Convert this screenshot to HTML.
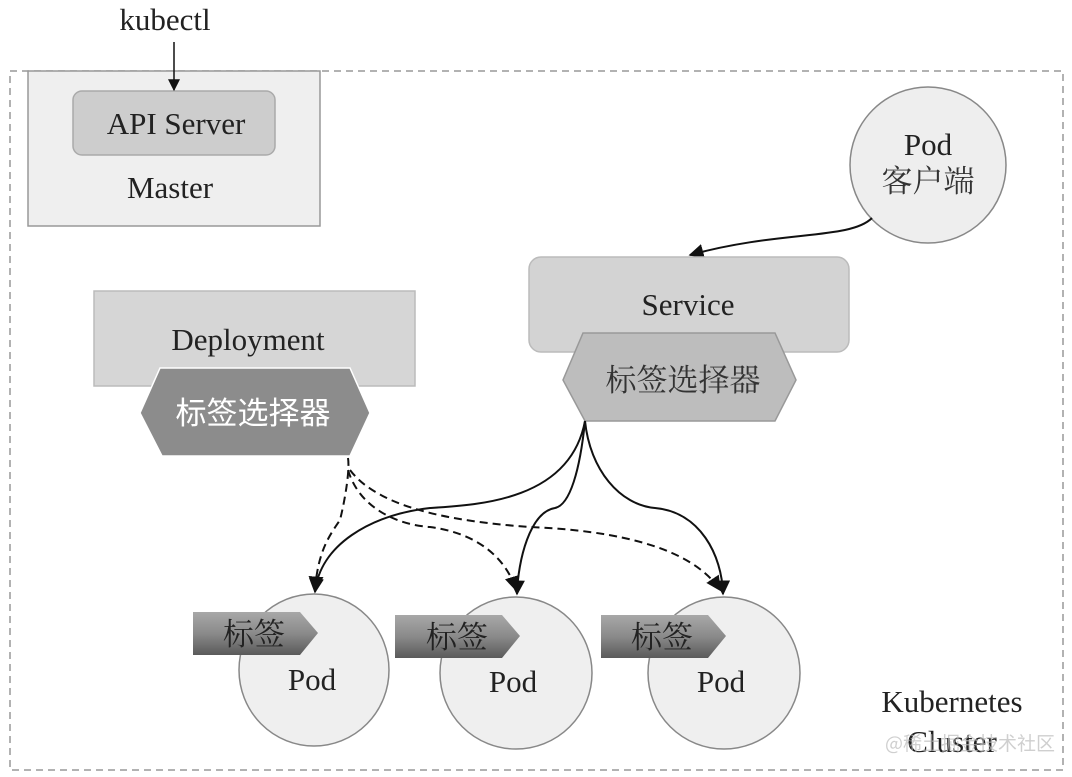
<!DOCTYPE html>
<html><head><meta charset="utf-8"><style>
html,body{margin:0;padding:0;background:#fff;}
svg{display:block;}
text{font-family:"Liberation Serif","Noto Serif CJK SC",serif;fill:#222;}
.cjk{font-family:"Noto Sans CJK SC","WenQuanYi Zen Hei",sans-serif;}
.cjks{font-family:"Noto Serif CJK SC","Noto Sans CJK SC",serif;}
</style></head><body>
<svg width="1072" height="777" viewBox="0 0 1072 777" xmlns="http://www.w3.org/2000/svg">
<defs>
<marker id="ah" viewBox="0 0 10 10" refX="9" refY="5" markerWidth="12" markerHeight="12" markerUnits="userSpaceOnUse" orient="auto">
<path d="M0,0 L10,5 L0,10 z" fill="#111"/></marker>
<marker id="ah2" viewBox="0 0 10 10" refX="9" refY="5" markerWidth="15" markerHeight="15" markerUnits="userSpaceOnUse" orient="auto">
<path d="M0,0 L10,5 L0,10 z" fill="#111"/></marker>
<linearGradient id="tg" x1="0" y1="0" x2="0" y2="1"><stop offset="0" stop-color="#a8a8a8"/><stop offset="0.5" stop-color="#8a8a8a"/><stop offset="1" stop-color="#5a5a5a"/></linearGradient>
</defs>
<rect x="10" y="71" width="1053" height="699" fill="none" stroke="#999" stroke-width="1.5" stroke-dasharray="7,5"/>
<!-- Master -->
<rect x="28" y="71" width="292" height="155" fill="#efefef" stroke="#999" stroke-width="1.5"/>
<rect x="73" y="91" width="202" height="64" rx="9" fill="#cdcdcd" stroke="#aaa" stroke-width="1.5"/>
<text x="176" y="134" font-size="31" text-anchor="middle">API Server</text>
<text x="170" y="198" font-size="31" text-anchor="middle">Master</text>
<text x="165" y="30" font-size="31" text-anchor="middle">kubectl</text>
<line x1="174" y1="42" x2="174" y2="90" stroke="#111" stroke-width="1.5" marker-end="url(#ah)"/>
<!-- Deployment -->
<rect x="94" y="291" width="321" height="95" fill="#d6d6d6" stroke="#bbb" stroke-width="1.5"/>
<text x="248" y="350" font-size="31" text-anchor="middle">Deployment</text>
<polygon points="160,368 350,368 370,413 350,456 162,456 140,413" fill="#8c8c8c" stroke="#fff" stroke-width="1.5"/>
<text x="253" y="424" font-size="31" text-anchor="middle" class="cjk" style="fill:#fff">标签选择器</text>
<!-- Pod client -->
<circle cx="928" cy="165" r="78" fill="#eee" stroke="#888" stroke-width="1.5"/>
<text x="928" y="155" font-size="31" text-anchor="middle">Pod</text>
<text x="928" y="192" font-size="31" text-anchor="middle" class="cjks" style="fill:#333">客户端</text>
<path d="M872,218 C850,240 780,230 690,255" fill="none" stroke="#111" stroke-width="2" marker-end="url(#ah2)"/>
<!-- Service -->
<rect x="529" y="257" width="320" height="95" rx="12" fill="#d3d3d3" stroke="#bbb" stroke-width="1.5"/>
<text x="688" y="315" font-size="31" text-anchor="middle">Service</text>
<polygon points="583,333 775,333 796,380 775,421 585,421 563,380" fill="#bdbdbd" stroke="#999" stroke-width="1.5"/>
<text x="683" y="391" font-size="31" text-anchor="middle" class="cjks" style="fill:#333">标签选择器</text>
<!-- Pods -->
<ellipse cx="314" cy="670" rx="75" ry="76" fill="#efefef" stroke="#888" stroke-width="1.5"/>
<ellipse cx="516" cy="673" rx="76" ry="76" fill="#efefef" stroke="#888" stroke-width="1.5"/>
<ellipse cx="724" cy="673" rx="76" ry="76" fill="#efefef" stroke="#888" stroke-width="1.5"/>
<polygon points="193,612 300,612 318,633 300,655 193,655" fill="url(#tg)"/>
<polygon points="395,615 502,615 520,636 502,658 395,658" fill="url(#tg)"/>
<polygon points="601,615 708,615 726,636 708,658 601,658" fill="url(#tg)"/>
<text x="254" y="645" font-size="31" text-anchor="middle" class="cjks" style="fill:#222">标签</text>
<text x="457" y="648" font-size="31" text-anchor="middle" class="cjks" style="fill:#222">标签</text>
<text x="662" y="648" font-size="31" text-anchor="middle" class="cjks" style="fill:#222">标签</text>
<text x="312" y="690" font-size="31" text-anchor="middle">Pod</text>
<text x="513" y="692" font-size="31" text-anchor="middle">Pod</text>
<text x="721" y="692" font-size="31" text-anchor="middle">Pod</text>
<!-- solid connectors -->
<path d="M585,421 C570,500 480,505 430,508 C370,515 320,545 315,592" fill="none" stroke="#111" stroke-width="2" marker-end="url(#ah2)"/>
<path d="M585,421 C580,470 570,505 555,508 C530,512 518,560 517,594" fill="none" stroke="#111" stroke-width="2" marker-end="url(#ah2)"/>
<path d="M585,421 C590,470 620,505 655,508 C700,512 722,555 723,594" fill="none" stroke="#111" stroke-width="2" marker-end="url(#ah2)"/>
<!-- dashed connectors -->
<path d="M348,458 C350,470 345,500 340,520 C330,535 318,550 315,590" fill="none" stroke="#111" stroke-width="2" stroke-dasharray="8,5" marker-end="url(#ah2)"/>
<path d="M348,470 C360,510 400,525 430,527 C490,535 510,570 516,590" fill="none" stroke="#111" stroke-width="2" stroke-dasharray="8,5" marker-end="url(#ah2)"/>
<path d="M350,470 C380,510 460,522 530,527 C650,532 700,560 720,590" fill="none" stroke="#111" stroke-width="2" stroke-dasharray="8,5" marker-end="url(#ah2)"/>
<text x="952" y="712" font-size="31" text-anchor="middle">Kubernetes</text>
<text x="952" y="752" font-size="31" text-anchor="middle">Cluster</text>
<text x="970" y="750" font-size="19" text-anchor="middle" class="cjk" style="fill:#bbb;opacity:0.7">@稀土掘金技术社区</text>
</svg>
</body></html>
